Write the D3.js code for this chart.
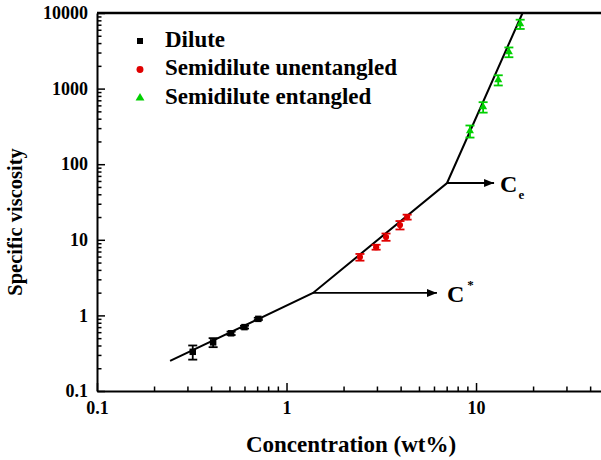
<!DOCTYPE html>
<html>
<head>
<meta charset="utf-8">
<script src="https://cdn.jsdelivr.net/npm/d3@7"></script>
<style>
  html, body { margin: 0; padding: 0; background: #fff; }
  svg { display: block; }
  text { font-family: "Liberation Serif", "Times New Roman", serif; }
</style>
</head>
<body>
<svg id="chart" width="601" height="460"></svg>
<script>
// Specific viscosity vs. concentration, three concentration regimes
const diluteConc = [0.32, 0.41, 0.51, 0.60, 0.71];
const diluteVisc = [0.33, 0.44, 0.58, 0.70, 0.90];
const diluteErr  = [0.07, 0.06, 0.03, 0.03, 0.03];

const unentConc = [2.44, 2.97, 3.35, 3.97, 4.33];
const unentVisc = [5.9, 8.0, 10.9, 15.7, 20.0];
const unentErr  = [0.6, 0.6, 1.2, 2.0, 1.5];

const entConc = [9.29, 10.9, 13.1, 14.9, 17.1];
const entVisc = [275, 571, 1300, 3050, 7150];
const entErr  = [50, 90, 200, 450, 1000];

// power-law fit segments, joined at C* and Ce
const fitConc = [0.243, 1.38, 7.03, 17.6];
const fitVisc = [0.25, 1.98, 56.4, 10000];

const xTicks = [0.1, 1, 10];
const yTicks = [0.1, 1, 10, 100, 1000, 10000];
const seriesNames = ["Dilute", "Semidilute unentangled", "Semidilute entangled"];
const seriesColors = ["#000000", "#e00000", "#00d000"];

const svg = d3.select("#chart");
const x = d3.scaleLog().domain([0.1, 50]).range([97, 608.5]);
const y = d3.scaleLog().domain([0.1, 10000]).range([391, 13]);

const fmt = d => (d >= 1 ? d3.format("d")(d) : String(d));

// minor ticks
const minorX = [];
[0.1, 1, 10].forEach(b => { for (let k = 2; k <= 9; k++) if (b * k <= 50) minorX.push(b * k); });
const minorY = [];
[0.1, 1, 10, 100, 1000].forEach(b => { for (let k = 2; k <= 9; k++) minorY.push(b * k); });

function styleAxis(g) {
  g.selectAll("path.domain").attr("stroke", "#000").attr("stroke-width", 2);
  g.selectAll(".tick line").attr("stroke", "#000").attr("stroke-width", 1.5);
  g.selectAll(".tick text")
    .attr("font-family", '"Liberation Serif", serif')
    .attr("font-weight", "bold").attr("font-size", 18).attr("fill", "#000");
}

// x axis
svg.append("g").attr("transform", "translate(0,391)")
  .call(d3.axisBottom(x).tickValues(minorX).tickSize(-4.5).tickFormat(""))
  .call(g => g.select(".domain").remove())
  .call(styleAxis);
svg.append("g").attr("transform", "translate(0,391)")
  .call(d3.axisBottom(x).tickValues(xTicks).tickSizeInner(-8).tickSizeOuter(0).tickPadding(10).tickFormat(fmt))
  .call(styleAxis);

// y axis
svg.append("g").attr("transform", "translate(97,0)")
  .call(d3.axisLeft(y).tickValues(minorY).tickSize(-4.5).tickFormat(""))
  .call(g => g.select(".domain").remove())
  .call(styleAxis);
svg.append("g").attr("transform", "translate(97,0)")
  .call(d3.axisLeft(y).tickValues(yTicks).tickSizeInner(-8).tickSizeOuter(0).tickPadding(9).tickFormat(fmt))
  .call(styleAxis);

// top frame line
svg.append("line")
  .attr("x1", x(0.1)).attr("x2", x(50))
  .attr("y1", y(10000)).attr("y2", y(10000))
  .attr("stroke", "#000").attr("stroke-width", 2.5);

// axis titles
svg.append("text")
  .attr("x", 351).attr("y", 452)
  .attr("text-anchor", "middle")
  .attr("font-weight", "bold").attr("font-size", 23)
  .text("Concentration (wt%)");
svg.append("text")
  .attr("transform", "translate(22,222) rotate(-90)")
  .attr("text-anchor", "middle")
  .attr("font-weight", "bold").attr("font-size", 20.5)
  .text("Specific viscosity");

// fit line
const fitPts = fitConc.map((c, i) => [c, fitVisc[i]]);
svg.append("path")
  .datum(fitPts)
  .attr("fill", "none").attr("stroke", "#000").attr("stroke-width", 2)
  .attr("d", d3.line().x(d => x(d[0])).y(d => y(d[1])));

// arrows marking C* and Ce
const defs = svg.append("defs");
defs.append("marker")
  .attr("id", "arrowHead")
  .attr("viewBox", "0 0 10 8").attr("refX", 10).attr("refY", 4)
  .attr("markerWidth", 10).attr("markerHeight", 8)
  .attr("markerUnits", "userSpaceOnUse").attr("orient", "auto")
  .append("path").attr("d", "M0,0 L10,4 L0,8 Z").attr("fill", "#000");

const arrows = [
  { from: [fitConc[1], fitVisc[1]], toConc: 6.22, main: "C", small: "*", sup: true },
  { from: [fitConc[2], fitVisc[2]], toConc: 12.45, main: "C", small: "e", sup: false }
];
arrows.forEach(a => {
  const yy = y(a.from[1]);
  svg.append("line")
    .attr("x1", x(a.from[0])).attr("x2", x(a.toConc))
    .attr("y1", yy).attr("y2", yy)
    .attr("stroke", "#000").attr("stroke-width", 1.8)
    .attr("marker-end", "url(#arrowHead)");
  const tx = x(a.toConc) + (a.sup ? 10 : 6);
  const t = svg.append("text")
    .attr("x", tx).attr("y", yy + 9)
    .attr("font-size", 24).attr("font-weight", "bold");
  t.append("tspan").text(a.main);
  t.append("tspan")
    .attr("font-size", 13)
    .attr("dx", a.sup ? 3 : 1)
    .attr("dy", a.sup ? -13 : 7)
    .text(a.small);
});

// error bars and markers
const groups = [
  { c: diluteConc, v: diluteVisc, e: diluteErr, sym: d3.symbolSquare, size: 42, color: seriesColors[0] },
  { c: unentConc, v: unentVisc, e: unentErr, sym: d3.symbolCircle, size: 30, color: seriesColors[1] },
  { c: entConc, v: entVisc, e: entErr, sym: d3.symbolTriangle, size: 28, color: seriesColors[2] }
];
groups.forEach(gp => {
  const pts = gp.c.map((c, i) => ({ c, v: gp.v[i], e: gp.e[i] }));
  const g = svg.append("g");
  const eb = g.selectAll("g.eb").data(pts).join("g").attr("stroke", gp.color).attr("stroke-width", 1.8);
  eb.append("line")
    .attr("x1", d => x(d.c)).attr("x2", d => x(d.c))
    .attr("y1", d => y(d.v + d.e)).attr("y2", d => y(d.v - d.e));
  eb.append("line")
    .attr("x1", d => x(d.c) - 4.5).attr("x2", d => x(d.c) + 4.5)
    .attr("y1", d => y(d.v + d.e)).attr("y2", d => y(d.v + d.e));
  eb.append("line")
    .attr("x1", d => x(d.c) - 4.5).attr("x2", d => x(d.c) + 4.5)
    .attr("y1", d => y(d.v - d.e)).attr("y2", d => y(d.v - d.e));
  g.selectAll("path.pt").data(pts).join("path")
    .attr("class", "pt")
    .attr("transform", d => `translate(${x(d.c)},${y(d.v)})`)
    .attr("d", d3.symbol().type(gp.sym).size(gp.size))
    .attr("fill", gp.color);
});

// legend
const legend = svg.append("g");
const legendSyms = [d3.symbolSquare, d3.symbolCircle, d3.symbolTriangle];
const legendSizes = [36, 38, 34];
seriesNames.forEach((name, i) => {
  const yy = 41 + i * 28.5;
  legend.append("path")
    .attr("transform", `translate(140,${yy})`)
    .attr("d", d3.symbol().type(legendSyms[i]).size(legendSizes[i]))
    .attr("fill", seriesColors[i]);
  legend.append("text")
    .attr("x", 165).attr("y", yy + 5.5)
    .attr("font-weight", "bold").attr("font-size", 23)
    .text(name);
});
</script>
</body>
</html>
